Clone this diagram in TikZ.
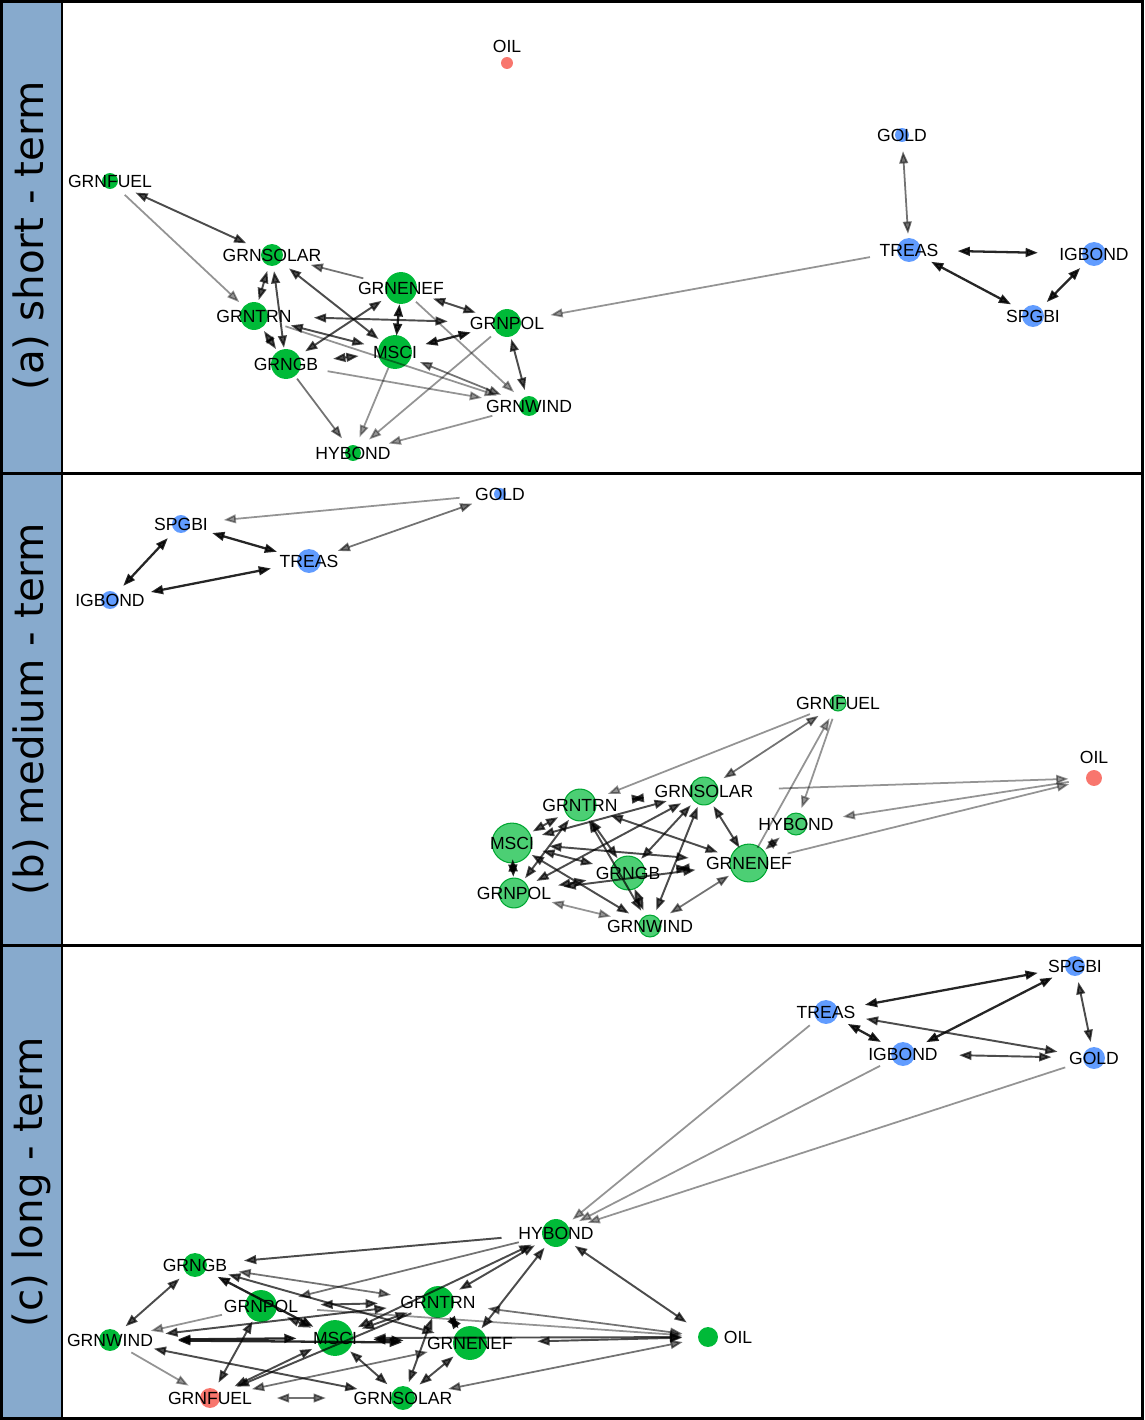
\documentclass[tikz,border=0pt]{standalone}
\usepackage{fontspec}
\setmainfont{Liberation Sans}
\newfontfamily\stripfont{DejaVu Sans}
\usetikzlibrary{arrows.meta, shapes.geometric}
\definecolor{vgreen}{RGB}{0,186,56}
\definecolor{vblue}{RGB}{97,156,255}
\definecolor{vred}{RGB}{248,118,109}
\definecolor{stripBlue}{RGB}{135,170,205}
\tikzstyle{nameText} = [ellipse, inner sep=0pt, font=\fontsize{10}{12}\selectfont, text=black]
\tikzstyle{stripText} = [rotate=90, font=\stripfont\fontsize{23}{28}\selectfont]
\tikzstyle{edgeBase} = [>={Triangle[length=7pt,width=5pt]}, shorten <=4pt, shorten >=4pt]
\tikzstyle{eBlack} = [edgeBase, line width=1.3pt, opacity=.85]
\tikzstyle{eDark} = [edgeBase, line width=1.1pt, opacity=.7]
\tikzstyle{eMid} = [edgeBase, line width=1pt, opacity=.55]
\tikzstyle{eGray} = [edgeBase, line width=1pt, opacity=.42]
\tikzset{
	vGreen/.style={circle, inner sep=0pt, fill=vgreen, minimum size=#1*0.567pt},
	vLight/.style={circle, inner sep=0pt, fill=vgreen!70, draw=vgreen!90!black, line width=.6pt, minimum size=#1*0.567pt},
	vBlue/.style={circle, inner sep=0pt, fill=vblue, minimum size=#1*0.567pt},
	vRed/.style={circle, inner sep=0pt, fill=vred, minimum size=#1*0.567pt}
}
\begin{document}
\begin{tikzpicture}[x=0.02cm, y=-0.02cm]
	\useasboundingbox (0,0) rectangle (1144,1420);
	\fill [stripBlue] (0,0) rectangle (62,1420);
	\draw [line width=1.2pt] (62,0) -- (62,1420);
	\draw [line width=1.7pt] (0,473) -- (1144,473);
	\draw [line width=1.7pt] (0,945) -- (1144,945);
	\draw [line width=1.7pt] (1.5,1.5) rectangle (1142.5,1418.5);
	\node (stripA) [stripText] at (31,236) {(a) short - term};
	\node (stripB) [stripText] at (31,709) {(b) medium - term};
	\node (stripC) [stripText] at (31,1182) {(c) long - term};

	\node (aOIL) [vRed=12, outer sep=4pt] at (507,63) {};
	\node (aOILtxt) [nameText] at (507,46) {OIL};
	\node (aGOLDdot) [vBlue=14] at (902,135) {};
	\node (aGOLD) [nameText] at (aGOLDdot) {GOLD};
	\node (aTREASdot) [vBlue=24] at (909,250) {};
	\node (aTREAS) [nameText] at (aTREASdot) {TREAS};
	\node (aIGBONDdot) [vBlue=24] at (1094,254) {};
	\node (aIGBOND) [nameText] at (aIGBONDdot) {IGBOND};
	\node (aSPGBIdot) [vBlue=22] at (1033,316) {};
	\node (aSPGBI) [nameText] at (aSPGBIdot) {SPGBI};
	\node (aGRNFUELdot) [vGreen=16] at (110,181) {};
	\node (aGRNFUEL) [nameText] at (aGRNFUELdot) {GRNFUEL};
	\node (aGRNSOLARdot) [vGreen=22] at (272,255) {};
	\node (aGRNSOLAR) [nameText] at (aGRNSOLARdot) {GRNSOLAR};
	\node (aGRNENEFdot) [vGreen=32] at (401,288) {};
	\node (aGRNENEF) [nameText] at (aGRNENEFdot) {GRNENEF};
	\node (aGRNTRNdot) [vGreen=28] at (254,316) {};
	\node (aGRNTRN) [nameText] at (aGRNTRNdot) {GRNTRN};
	\node (aGRNPOLdot) [vGreen=28] at (507,323) {};
	\node (aGRNPOL) [nameText] at (aGRNPOLdot) {GRNPOL};
	\node (aMSCIdot) [vGreen=34] at (395,352) {};
	\node (aMSCI) [nameText] at (aMSCIdot) {MSCI};
	\node (aGRNGBdot) [vGreen=30] at (286,364) {};
	\node (aGRNGB) [nameText] at (aGRNGBdot) {GRNGB};
	\node (aGRNWINDdot) [vGreen=20] at (529,406) {};
	\node (aGRNWIND) [nameText] at (aGRNWINDdot) {GRNWIND};
	\node (aHYBONDdot) [vGreen=16] at (353,453) {};
	\node (aHYBOND) [nameText] at (aHYBONDdot) {HYBOND};
	\draw [eDark, <->] (aGRNFUEL) -- (aGRNSOLAR);
	\draw [eGray, ->] (aGRNFUEL) -- (aGRNTRN);
	\draw [eDark, <->] (aGRNSOLAR) -- (aGRNTRN);
	\draw [eDark, <->] (aGRNSOLAR) -- (aGRNGB);
	\draw [eDark, <->] (aGRNSOLAR) -- (aMSCI);
	\draw [eMid, ->] (aGRNENEF) -- (aGRNSOLAR);
	\draw [eDark, <->] (aGRNENEF) -- (aGRNPOL);
	\draw [eBlack, <->] (aGRNENEF) -- (aMSCI);
	\draw [eDark, <->] (aGRNTRN) -- (aGRNPOL);
	\draw [eDark, <->] (aGRNGB) -- (aGRNENEF);
	\draw [eDark, <->] (aGRNTRN) -- (aMSCI);
	\draw [eDark, <->] (aGRNGB) -- (aMSCI);
	\draw [eBlack, <->] (aMSCI) -- (aGRNPOL);
	\draw [eDark, <->] (aGRNTRN) -- (aGRNGB);
	\draw [eGray, ->] (aGRNTRN) -- (aGRNWIND);
	\draw [eGray, ->] (aGRNGB) -- (aGRNWIND);
	\draw [eMid, <->] (aMSCI) -- (aGRNWIND);
	\draw [eGray, ->] (aGRNENEF) -- (aGRNWIND);
	\draw [eDark, <->] (aGRNPOL) -- (aGRNWIND);
	\draw [eGray, ->] (aGRNPOL) -- (aHYBOND);
	\draw [eGray, ->] (aMSCI) -- (aHYBOND);
	\draw [eMid, ->] (aGRNGB) -- (aHYBOND);
	\draw [eGray, ->] (aGRNWIND) -- (aHYBOND);
	\draw [eGray, ->] (aTREAS) -- (aGRNPOL);
	\draw [eMid, <->] (aGOLD) -- (aTREAS);
	\draw [eBlack, <->] (aTREAS) -- (aIGBOND);
	\draw [eBlack, <->] (aTREAS) -- (aSPGBI);
	\draw [eBlack, <->] (aIGBOND) -- (aSPGBI);

	\node (bGOLDdot) [vBlue=12] at (500,494) {};
	\node (bGOLD) [nameText] at (bGOLDdot) {GOLD};
	\node (bSPGBIdot) [vBlue=18] at (181,524) {};
	\node (bSPGBI) [nameText] at (bSPGBIdot) {SPGBI};
	\node (bTREASdot) [vBlue=24] at (309,561) {};
	\node (bTREAS) [nameText] at (bTREASdot) {TREAS};
	\node (bIGBONDdot) [vBlue=18] at (110,600) {};
	\node (bIGBOND) [nameText] at (bIGBONDdot) {IGBOND};
	\node (bGRNFUELdot) [vLight=16] at (838,703) {};
	\node (bGRNFUEL) [nameText] at (bGRNFUELdot) {GRNFUEL};
	\node (bOIL) [vRed=16, outer sep=6pt] at (1094,778) {};
	\node (bOILtxt) [nameText] at (1094,757) {OIL};
	\node (bGRNSOLARdot) [vLight=28] at (704,791) {};
	\node (bGRNSOLAR) [nameText] at (bGRNSOLARdot) {GRNSOLAR};
	\node (bGRNTRNdot) [vLight=32] at (580,805) {};
	\node (bGRNTRN) [nameText] at (bGRNTRNdot) {GRNTRN};
	\node (bHYBONDdot) [vLight=22] at (796,824) {};
	\node (bHYBOND) [nameText] at (bHYBONDdot) {HYBOND};
	\node (bMSCIdot) [vLight=40] at (512,843) {};
	\node (bMSCI) [nameText] at (bMSCIdot) {MSCI};
	\node (bGRNENEFdot) [vLight=38] at (749,863) {};
	\node (bGRNENEF) [nameText] at (bGRNENEFdot) {GRNENEF};
	\node (bGRNGBdot) [vLight=34] at (628,873) {};
	\node (bGRNGB) [nameText] at (bGRNGBdot) {GRNGB};
	\node (bGRNPOLdot) [vLight=30] at (514,893) {};
	\node (bGRNPOL) [nameText] at (bGRNPOLdot) {GRNPOL};
	\node (bGRNWINDdot) [vLight=22] at (650,926) {};
	\node (bGRNWIND) [nameText] at (bGRNWINDdot) {GRNWIND};
	\draw [eGray, ->] (bGOLD) -- (bSPGBI);
	\draw [eMid, <->] (bGOLD) -- (bTREAS);
	\draw [eBlack, <->] (bSPGBI) -- (bTREAS);
	\draw [eBlack, <->] (bSPGBI) -- (bIGBOND);
	\draw [eBlack, <->] (bIGBOND) -- (bTREAS);
	\draw [eGray, ->] (bGRNFUEL) -- (bGRNTRN);
	\draw [eMid, <->] (bGRNFUEL) -- (bGRNSOLAR);
	\draw [eGray, ->] (bGRNFUEL) -- (bHYBOND);
	\draw [eGray, ->] (bGRNENEF) -- (bGRNFUEL);
	\draw [eMid, <->] (bHYBOND) -- (bGRNENEF);
	\draw [eGray, ->] (bGRNSOLAR) -- (bOIL);
	\draw [eGray, ->] (bOIL) -- (bHYBOND);
	\draw [eGray, ->] (bGRNENEF) -- (bOIL);
	\draw [eDark, <->] (bMSCI) -- (bGRNTRN);
	\draw [eBlack, <->] (bMSCI) -- (bGRNPOL);
	\draw [eDark, <->] (bMSCI) -- (bGRNSOLAR);
	\draw [eDark, <->] (bMSCI) -- (bGRNENEF);
	\draw [eDark, <->] (bMSCI) -- (bGRNGB);
	\draw [eDark, <->] (bMSCI) -- (bGRNWIND);
	\draw [eDark, <->] (bGRNTRN) -- (bGRNSOLAR);
	\draw [eDark, <->] (bGRNTRN) -- (bGRNENEF);
	\draw [eDark, <->] (bGRNTRN) -- (bGRNGB);
	\draw [eDark, <->] (bGRNTRN) -- (bGRNWIND);
	\draw [eDark, <->] (bGRNTRN) -- (bGRNPOL);
	\draw [eDark, <->] (bGRNSOLAR) -- (bGRNGB);
	\draw [eDark, <->] (bGRNSOLAR) -- (bGRNWIND);
	\draw [eDark, <->] (bGRNSOLAR) -- (bGRNENEF);
	\draw [eDark, <->] (bGRNSOLAR) -- (bGRNPOL);
	\draw [eDark, <->] (bGRNGB) -- (bGRNENEF);
	\draw [eDark, <->] (bGRNGB) -- (bGRNPOL);
	\draw [eDark, <->] (bGRNGB) -- (bGRNWIND);
	\draw [eMid, <->] (bGRNENEF) -- (bGRNWIND);
	\draw [eDark, <->] (bGRNENEF) -- (bGRNPOL);
	\draw [eGray, <->] (bGRNPOL) -- (bGRNWIND);

	\node (cSPGBIdot) [vBlue=20] at (1075,966) {};
	\node (cSPGBI) [nameText] at (cSPGBIdot) {SPGBI};
	\node (cTREASdot) [vBlue=24] at (826,1012) {};
	\node (cTREAS) [nameText] at (cTREASdot) {TREAS};
	\node (cIGBONDdot) [vBlue=24] at (903,1054) {};
	\node (cIGBOND) [nameText] at (cIGBONDdot) {IGBOND};
	\node (cGOLDdot) [vBlue=22] at (1094,1058) {};
	\node (cGOLD) [nameText] at (cGOLDdot) {GOLD};
	\node (cHYBONDdot) [vGreen=28] at (556,1233) {};
	\node (cHYBOND) [nameText] at (cHYBONDdot) {HYBOND};
	\node (cGRNGBdot) [vGreen=24] at (195,1265) {};
	\node (cGRNGB) [nameText] at (cGRNGBdot) {GRNGB};
	\node (cGRNPOLdot) [vGreen=32] at (261,1306) {};
	\node (cGRNPOL) [nameText] at (cGRNPOLdot) {GRNPOL};
	\node (cGRNTRNdot) [vGreen=32] at (438,1302) {};
	\node (cGRNTRN) [nameText] at (cGRNTRNdot) {GRNTRN};
	\node (cMSCIdot) [vGreen=36] at (335,1338) {};
	\node (cMSCI) [nameText] at (cMSCIdot) {MSCI};
	\node (cGRNENEFdot) [vGreen=34] at (470,1343) {};
	\node (cGRNENEF) [nameText] at (cGRNENEFdot) {GRNENEF};
	\node (cOIL) [vGreen=20, outer sep=5pt] at (708,1337) {};
	\node (cOILtxt) [nameText] at (738,1337) {OIL};
	\node (cGRNWINDdot) [vGreen=22] at (110,1340) {};
	\node (cGRNWIND) [nameText] at (cGRNWINDdot) {GRNWIND};
	\node (cGRNFUELdot) [vRed=20] at (210,1398) {};
	\node (cGRNFUEL) [nameText] at (cGRNFUELdot) {GRNFUEL};
	\node (cGRNSOLARdot) [vGreen=24] at (403,1398) {};
	\node (cGRNSOLAR) [nameText] at (cGRNSOLARdot) {GRNSOLAR};
	\draw [eBlack, <->] (cTREAS) -- (cSPGBI);
	\draw [eBlack, <->] (cSPGBI) -- (cIGBOND);
	\draw [eDark, <->] (cSPGBI) -- (cGOLD);
	\draw [eDark, <->] (cTREAS) -- (cGOLD);
	\draw [eBlack, <->] (cTREAS) -- (cIGBOND);
	\draw [eDark, <->] (cIGBOND) -- (cGOLD);
	\draw [eGray, ->] (cTREAS) -- (cHYBOND);
	\draw [eGray, ->] (cIGBOND) -- (cHYBOND);
	\draw [eGray, ->] (cGOLD) -- (cHYBOND);
	\draw [eDark, <->] (cHYBOND) -- (cOIL);
	\draw [eDark, <->] (cHYBOND) -- (cGRNENEF);
	\draw [eDark, <->] (cGRNTRN) -- (cHYBOND);
	\draw [eDark, <->] (cMSCI) -- (cHYBOND);
	\draw [eDark, ->] (cHYBOND) -- (cGRNGB);
	\draw [eMid, ->] (cHYBOND) -- (cGRNPOL);
	\draw [eMid, <->] (cOIL) -- (cGRNTRN);
	\draw [eDark, <->] (cOIL) -- (cGRNENEF);
	\draw [eMid, <->] (cOIL) -- (cGRNSOLAR);
	\draw [eGray, ->] (cGRNPOL) -- (cOIL);
	\draw [eDark, <->] (cMSCI) -- (cOIL);
	\draw [eDark, <->] (cGRNSOLAR) -- (cGRNENEF);
	\draw [eDark, <->] (cGRNSOLAR) -- (cGRNTRN);
	\draw [eBlack, <->] (cGRNTRN) -- (cGRNENEF);
	\draw [eDark, <->] (cGRNGB) -- (cGRNWIND);
	\draw [eGray, ->] (cGRNWIND) -- (cGRNFUEL);
	\draw [eMid, <->] (cGRNFUEL) -- (cGRNSOLAR);
	\draw [eDark, <->] (cGRNFUEL) -- (cGRNPOL);
	\draw [eBlack, <->] (cGRNGB) -- (cMSCI);
	\draw [eMid, <->] (cGRNGB) -- (cGRNTRN);
	\draw [eDark, <->] (cGRNGB) -- (cGRNENEF);
	\draw [eDark, <->] (cGRNPOL) -- (cGRNTRN);
	\draw [eBlack, <->] (cGRNWIND) -- (cMSCI);
	\draw [eBlack, <->] (cGRNWIND) -- (cGRNENEF);
	\draw [eDark, <->] (cGRNWIND) -- (cGRNTRN);
	\draw [eGray, ->] (cGRNPOL) -- (cGRNWIND);
	\draw [eDark, <->] (cGRNWIND) -- (cGRNSOLAR);
	\draw [eDark, <->] (cMSCI) -- (cGRNSOLAR);
	\draw [eDark, <->] (cMSCI) -- (cGRNFUEL);
	\draw [eDark, ->] (cGRNTRN) -- (cGRNFUEL);
	\draw [eMid, <->] (cGRNFUEL) -- (cGRNENEF);
	\draw [eBlack, <->] (cMSCI) -- (cGRNENEF);
	\draw [eDark, <->] (cMSCI) -- (cGRNTRN);
	\draw [eDark, <->] (cGRNPOL) -- (cMSCI);
\end{tikzpicture}
\end{document}
